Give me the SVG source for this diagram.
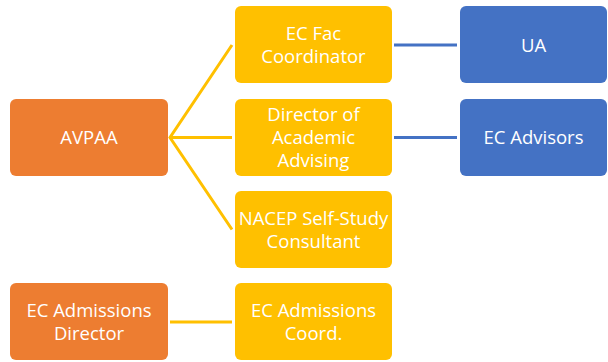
<svg xmlns="http://www.w3.org/2000/svg" width="608" height="362" viewBox="0 0 608 362">
<style>
text{font-family:"Open Sans","Noto Sans",sans-serif;font-size:18.5px;fill:#fff;text-anchor:middle}
.o{fill:#ED7D31}.y{fill:#FFC000}.b{fill:#4472C4}
.cy{stroke:#FFC000;stroke-width:3;fill:none}
.cb{stroke:#4472C4;stroke-width:3;fill:none}
</style>
<rect width="608" height="362" fill="#fff"/>
<g id="connectors">
<path class="cy" d="M232,45 L170,137.5 L232,229.5 M170,137.5 L232,137.5"/>
<path class="cb" d="M394,45 L457,45 M394,137.5 L457,137.5"/>
<path class="cy" d="M170,322 L232,322"/>
</g>
<g id="avpaa"><rect class="o" x="10" y="99" width="158" height="77" rx="6"/><text x="89" y="144">AVPAA</text></g>
<g id="ecfac"><rect class="y" x="235" y="6" width="157" height="77" rx="6"/><text x="313.5" y="40">EC Fac</text><text x="313.5" y="63">Coordinator</text></g>
<g id="director"><rect class="y" x="235" y="99" width="157" height="77" rx="6"/><text x="313.5" y="121">Director of</text><text x="313.5" y="144">Academic</text><text x="313.5" y="167">Advising</text></g>
<g id="nacep"><rect class="y" x="235" y="191" width="157" height="77" rx="6"/><text x="313.5" y="225">NACEP Self-Study</text><text x="313.5" y="248">Consultant</text></g>
<g id="ua"><rect class="b" x="460" y="6" width="147" height="77" rx="6"/><text x="533.5" y="52">UA</text></g>
<g id="ecadvisors"><rect class="b" x="460" y="99" width="147" height="77" rx="6"/><text x="533.5" y="144">EC Advisors</text></g>
<g id="admdir"><rect class="o" x="10" y="283" width="158" height="77" rx="6"/><text x="89" y="317">EC Admissions</text><text x="89" y="340">Director</text></g>
<g id="admcoord"><rect class="y" x="235" y="283" width="157" height="77" rx="6"/><text x="313.5" y="317">EC Admissions</text><text x="313.5" y="340">Coord.</text></g>
</svg>
